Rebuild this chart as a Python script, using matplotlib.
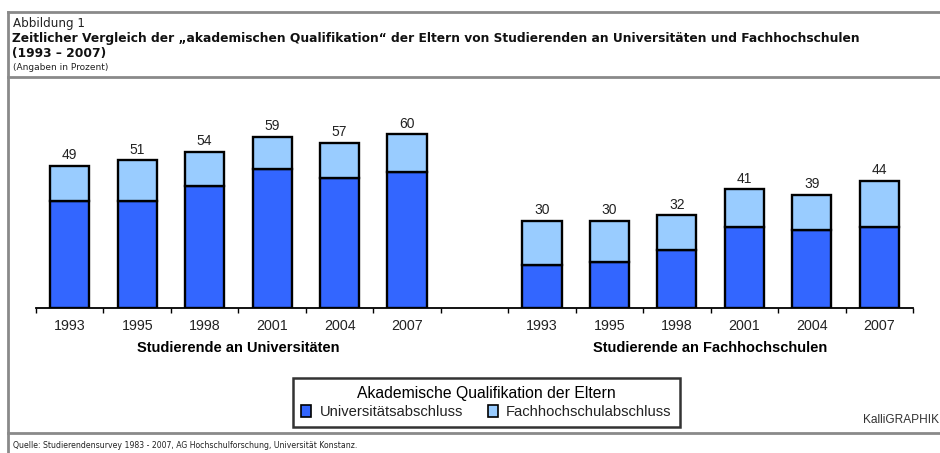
import matplotlib
matplotlib.use("Agg")
import matplotlib.pyplot as plt
from matplotlib.lines import Line2D
from matplotlib.patches import Patch
import numpy as np

# ---- data ----
years = ["1993", "1995", "1998", "2001", "2004", "2007"]
uni_total = [49, 51, 54, 59, 57, 60]
uni_univ = [37, 37, 42, 48, 45, 47]
fh_total = [30, 30, 32, 41, 39, 44]
fh_univ = [15, 16, 20, 28, 27, 28]
group_labels = ["Studierende an Universitäten", "Studierende an Fachhochschulen"]
series_names = ["Universitätsabschluss", "Fachhochschulabschluss"]
legend_title = "Akademische Qualifikation der Eltern"

W, H = 940, 453
fig = plt.figure(figsize=(W / 100, H / 100), dpi=100)
fig.patch.set_facecolor("white")

def fx(px):
    return px / W

def fy(py):
    return 1 - py / H

DARK = "#3366FF"
LIGHT = "#99CCFF"
SANS = ["Liberation Sans", "DejaVu Sans"]
HEAD = ["DejaVu Sans"]

# ---- axes ----
ax_left, ax_right = 36, 913
base_y = 308
ymax = 72
px_per = 2.895
ax_top = base_y - ymax * px_per
ax = fig.add_axes([fx(ax_left), fy(base_y), fx(ax_right - ax_left), (base_y - ax_top) / H])
ax.set_xlim(-0.5, 12.5)
ax.set_ylim(0, ymax)

x_uni = np.arange(6)
x_fh = np.arange(7, 13)
bw = 0.58
uni_fhpart = [t - u for t, u in zip(uni_total, uni_univ)]
fh_fhpart = [t - u for t, u in zip(fh_total, fh_univ)]

for xs, univ, fhp, tot in [(x_uni, uni_univ, uni_fhpart, uni_total), (x_fh, fh_univ, fh_fhpart, fh_total)]:
    ax.bar(xs, univ, width=bw, color=DARK, edgecolor="black", linewidth=1.7, zorder=3)
    ax.bar(xs, fhp, bottom=univ, width=bw, color=LIGHT, edgecolor="black", linewidth=1.7, zorder=3)
    for x, t in zip(xs, tot):
        ax.text(x, t + 1.3, str(t), ha="center", va="bottom", fontsize=10,
                family=SANS, color="#222222")

for s in ["left", "right", "top"]:
    ax.spines[s].set_visible(False)
ax.spines["bottom"].set_linewidth(1.3)
ax.set_yticks([])
ax.set_xticks(list(x_uni) + list(x_fh))
ax.set_xticklabels(years + years, fontsize=10.3, family=SANS, color="#222222")
ax.tick_params(axis="x", which="major", length=0, pad=8)
ax.set_xticks(np.arange(-0.5, 13.0, 1.0), minor=True)
ax.tick_params(axis="x", which="minor", length=3.5, width=1, direction="out")
ax.patch.set_alpha(0)

# group labels
ax.text(2.5, -0.19, group_labels[0], transform=ax.get_xaxis_transform(),
        ha="center", va="center", fontsize=10.5, fontweight="bold", family=SANS)
ax.text(9.5, -0.19, group_labels[1], transform=ax.get_xaxis_transform(),
        ha="center", va="center", fontsize=10.5, fontweight="bold", family=SANS)

# ---- frame lines ----
gc = "#8a8a8a"
fig.add_artist(Line2D([fx(8), 1], [fy(11.5), fy(11.5)], color=gc, lw=2))
fig.add_artist(Line2D([fx(8), fx(8)], [fy(11.5), 0], color=gc, lw=2))
fig.add_artist(Line2D([fx(8), 1], [fy(77), fy(77)], color=gc, lw=2))
fig.add_artist(Line2D([fx(8), 1], [fy(433), fy(433)], color=gc, lw=2))

# ---- header texts ----
fig.text(fx(13), fy(23.5), "Abbildung 1", fontsize=8.6, family=HEAD, va="center", color="#222222")
fig.text(fx(12), fy(38.5),
         "Zeitlicher Vergleich der \u201eakademischen Qualifikation\u201c der Eltern von Studierenden an Universitäten und Fachhochschulen",
         fontsize=8.8, fontweight="bold", family=HEAD, va="center", color="#111111")
fig.text(fx(12), fy(53), "(1993 \u2013 2007)", fontsize=8.8, fontweight="bold", family=HEAD,
         va="center", color="#111111")
fig.text(fx(13), fy(67.5), "(Angaben in Prozent)", fontsize=6.5, family=HEAD, va="center", color="#222222")
fig.text(fx(13), fy(446),
         "Quelle: Studierendensurvey 1983 - 2007, AG Hochschulforschung, Universität Konstanz.",
         fontsize=5.6, family=HEAD, va="center", color="#222222")
fig.text(fx(939), fy(420), "KalliGRAPHIK", fontsize=8.6, family=SANS, ha="right", va="center",
         color="#333333")

# ---- legend ----
handles = [Patch(facecolor=DARK, edgecolor="black", linewidth=1.2),
           Patch(facecolor=LIGHT, edgecolor="black", linewidth=1.2)]
leg = fig.legend(handles, series_names, ncol=2, loc="center",
                 bbox_to_anchor=(fx(486.5), fy(402.5)), title=legend_title,
                 frameon=True, fancybox=False, shadow=False, edgecolor="black",
                 prop={"family": SANS, "size": 10.6},
                 title_fontproperties={"family": SANS, "size": 11.3},
                 handlelength=0.68, handleheight=0.8, handletextpad=0.55,
                 columnspacing=1.7, borderpad=0.55, labelspacing=0.3, borderaxespad=0)
leg.get_frame().set_linewidth(1.8)
for t in leg.get_texts():
    t.set_color("#222222")

fig.savefig("out.png", dpi=100, facecolor="white")
